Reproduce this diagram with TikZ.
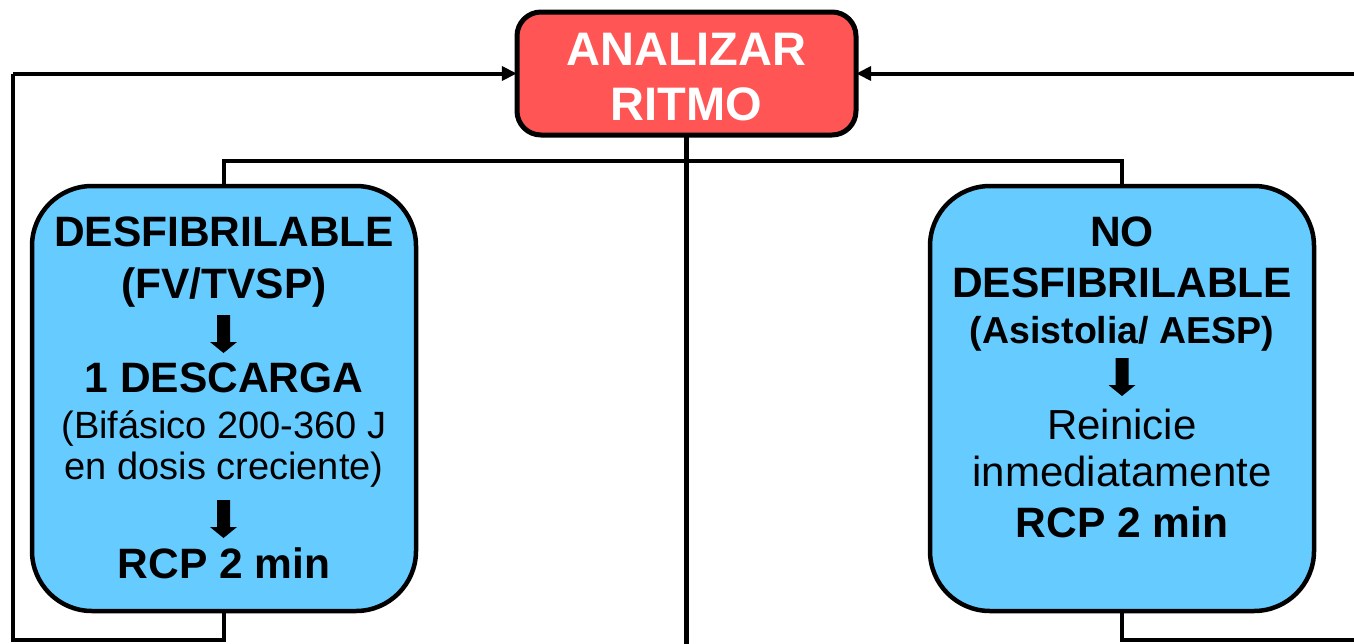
\documentclass[tikz,border=0pt]{standalone}
\usepackage{fontspec}
\setmainfont{Liberation Sans}
\usetikzlibrary{arrows.meta}
\definecolor{boxred}{HTML}{FF5555}
\definecolor{boxblue}{HTML}{66CCFF}
\begin{document}
\begin{tikzpicture}[x=1pt,y=-1pt,
  line/.style={line width=4.5pt},
  tip/.style={line width=4pt,-{Triangle[length=15pt,width=14pt]}},
  redbox/.style={draw=black,line width=5pt,fill=boxred,rounded corners=24pt},
  bluebox/.style={draw=black,line width=4.5pt,fill=boxblue,rounded corners=60pt},
  txt/.style={anchor=base,inner sep=0pt},
  bigb/.style={txt,font=\fontsize{42.5}{50}\selectfont\bfseries},
  midb/.style={txt,font=\fontsize{42.5}{50}\selectfont\bfseries},
  smb/.style={txt,font=\fontsize{37.5}{44}\selectfont\bfseries},
  regl/.style={txt,font=\fontsize{38}{46}\selectfont},
  regr/.style={txt,font=\fontsize{42}{50}\selectfont},
  dnarrow/.pic={\fill (-6.5,0) -- (6.5,0) -- (6.5,27) -- (13.5,27) -- (0,38) -- (-13.5,27) -- (-6.5,27) -- cycle;}
]
\useasboundingbox (0,0) rectangle (1354,643);
% boxes
\draw[redbox] (517,12) rectangle (856,135);
\node[inner sep=0pt,minimum width=339pt,minimum height=123pt] (top) at (686.5,73.5) {};
\draw[bluebox] (32,186) rectangle (416,611);
\node[inner sep=0pt,minimum width=384pt,minimum height=425pt] (left) at (224,398.5) {};
\draw[bluebox] (930,186) rectangle (1314,611);
\node[inner sep=0pt,minimum width=384pt,minimum height=425pt] (right) at (1122,398.5) {};
% top text
\node[txt,text=white,font=\fontsize{47}{56}\selectfont\bfseries] (t1) at (686.5,65) {ANALIZAR};
\node[txt,text=white,font=\fontsize{47}{56}\selectfont\bfseries] (t2) at (686.5,120) {RITMO};
% left text
\node[midb] (l1) at (224,246) {DESFIBRILABLE};
\node[bigb] (l2) at (224,298) {(FV/TVSP)};
\pic at (223.5,315) {dnarrow};
\node[bigb] (l3) at (224,392) {1 DESCARGA};
\node[regl] (l4) at (224,438) {(Bifásico 200-360 J};
\node[regl] (l5) at (224,479) {en dosis creciente)};
\pic at (223.5,500) {dnarrow};
\node[bigb] (l6) at (224,578) {RCP 2 min};
% right text
\node[midb] (r1) at (1122,246) {NO};
\node[midb] (r2) at (1122,297) {DESFIBRILABLE};
\node[smb] (r3) at (1122,343) {(Asistolia/ AESP)};
\pic at (1122,358) {dnarrow};
\node[regr] (r4) at (1122,439) {Reinicie};
\node[regr] (r5) at (1122,486) {inmediatamente};
\node[bigb] (r6) at (1122,537) {RCP 2 min};
% connectors
\coordinate (llb) at (13,640);
\coordinate (llt) at (13,73.5);
\coordinate (rrb) at (1360,640);
\coordinate (rrt) at (1360,73.5);
\coordinate (bot) at (686.5,650);
\coordinate (hy) at (0,161);
\draw[line] (top.south) -- (bot);
\draw[line] (left.north) |- (hy -| top.south) -| (right.north);
\draw[line] (left.south) |- (llb) -- (llt);
\draw[tip] (llt) -- (top.west);
\draw[line] (right.south) |- (rrb);
\draw[tip] (rrt) -- (top.east);
\end{tikzpicture}
\end{document}
